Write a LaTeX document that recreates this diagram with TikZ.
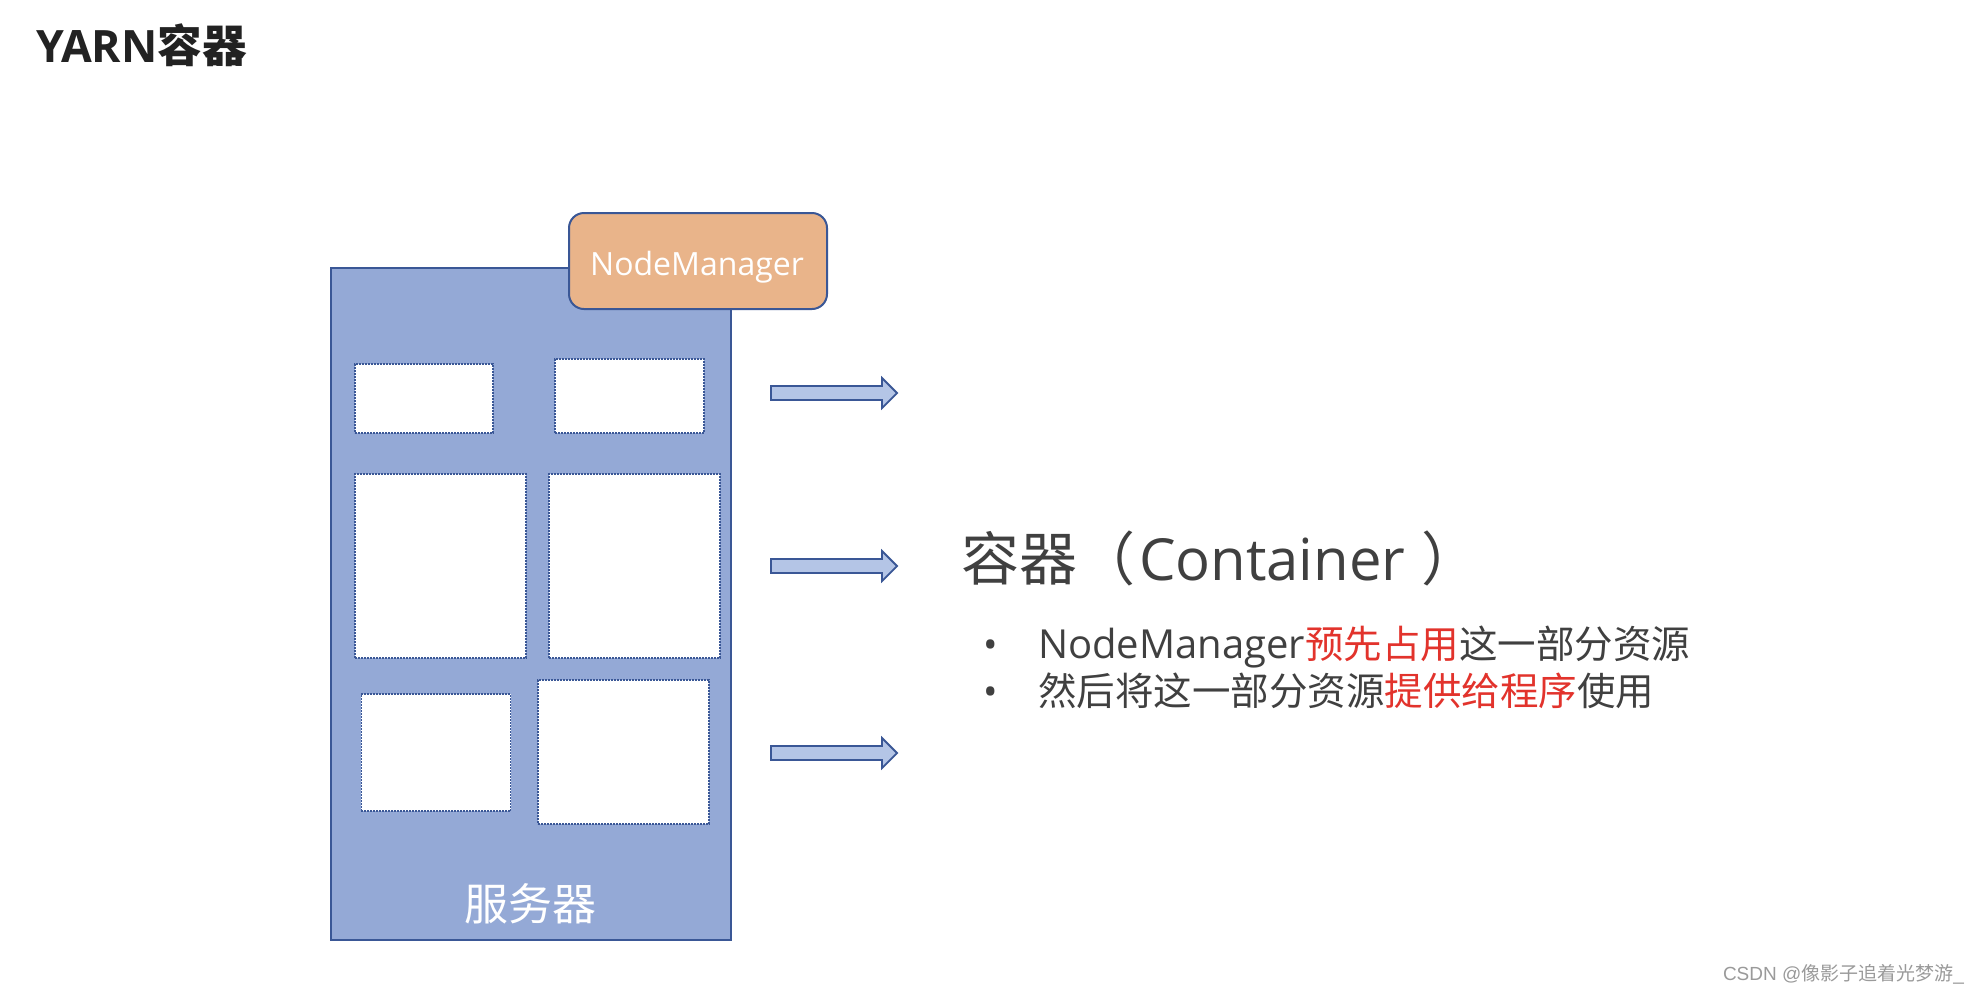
\documentclass[tikz,border=0pt]{standalone}
\usepackage{fontspec}
\setmainfont{Open Sans}
\newfontfamily\cjk{Noto Sans CJK SC}
\newfontfamily\wmfont{Liberation Sans}
\definecolor{srvfill}{HTML}{94A9D6}
\definecolor{navy}{HTML}{3A5796}
\definecolor{nmfill}{HTML}{E9B48A}
\definecolor{arrfill}{HTML}{B4C5E6}
\definecolor{txt}{HTML}{404040}
\definecolor{hl}{HTML}{E2332C}
\definecolor{ttl}{HTML}{222222}
\definecolor{wmgray}{HTML}{9A9A9A}
\tikzset{
  srvbox/.style={draw=navy, fill=srvfill, line width=1pt, inner sep=0pt, outer sep=0pt},
  nmbox/.style={draw=navy, fill=nmfill, line width=1pt, rounded corners=7.5pt, inner sep=0pt, outer sep=0pt},
  slot/.style={draw=navy, fill=white, line width=0.7pt, dash pattern=on 0.9pt off 0.6pt, inner sep=0pt, outer sep=0pt},
  blockarrow/.style={draw=navy, fill=arrfill, line width=0.9pt},
  txtnode/.style={inner sep=0pt, outer sep=0pt}
}
\begin{document}
\begin{tikzpicture}[x=0.5pt,y=-0.5pt]
\useasboundingbox (0,0) rectangle (1980,992);
\fill[white] (0,0) rectangle (1980,992);
% title
\node[txtnode, anchor=base west, text=ttl] (title) at (36,62)
  {\fontsize{22.3}{26}\selectfont\bfseries YARN{\cjk\bfseries 容器}};
% server
\node[srvbox, minimum width=200pt, minimum height=336pt] (server) at (531,604) {};
\node[nmbox, minimum width=129pt, minimum height=48pt] (nm) at (698,261) {};
\node[txtnode, anchor=base, text=white] (nmtext) at (697,275) {\fontsize{16}{19}\selectfont NodeManager};
\node[slot, minimum width=69pt, minimum height=34.5pt] (b1) at (424,398.5) {};
\node[slot, minimum width=74.5pt, minimum height=37pt] (b2) at (629.5,396) {};
\node[slot, minimum width=85.5pt, minimum height=92pt] (b3) at (440.5,566) {};
\node[slot, minimum width=85.5pt, minimum height=92pt] (b4) at (634.5,566) {};
\node[slot, minimum width=74.75pt, minimum height=58.5pt] (b5) at (436,752.5) {};
\node[slot, minimum width=85.5pt, minimum height=72pt] (b6) at (623.5,752) {};
\node[txtnode, anchor=base, text=white] (srvtext) at (530,920) {\cjk\fontsize{22}{26}\selectfont 服务器};
% block arrows
\foreach \yy in {393,566,753} {
  \draw[blockarrow] (771,\yy-7) -- (882,\yy-7) -- (882,\yy-15) -- (897,\yy) -- (882,\yy+15) -- (882,\yy+7) -- (771,\yy+7) -- cycle;
}
% heading
\node[txtnode, anchor=base west, text=txt] (head) at (961,580)
  {\fontsize{29}{34}\selectfont{\cjk 容器（}\hspace{2pt}Container\hspace{8pt}{\cjk ）}};
% bullets
\node[txtnode, anchor=base, text=txt] (dot1) at (991,658) {\fontsize{19.25}{23}\selectfont •};
\node[txtnode, anchor=base, text=txt] (dot2) at (991,705) {\fontsize{19.25}{23}\selectfont •};
\node[txtnode, anchor=base west, text=txt] (line1) at (1038,658)
  {\fontsize{20}{23}\selectfont NodeManager{\fontsize{19.25}{23}\selectfont{\cjk\color{hl}预先占用}{\cjk 这一部分资源}}};
\node[txtnode, anchor=base west, text=txt] (line2) at (1038,705)
  {\fontsize{19.25}{23}\selectfont{\cjk 然后将这一部分资源}{\cjk\color{hl}提供给程序}{\cjk 使用}};
% watermark
\node[txtnode, anchor=base west, text=wmgray] (wm) at (1723,980)
  {\fontsize{9.5}{12}\selectfont\wmfont CSDN @{\cjk 像影子追着光梦游}\_};
\end{tikzpicture}
\end{document}
